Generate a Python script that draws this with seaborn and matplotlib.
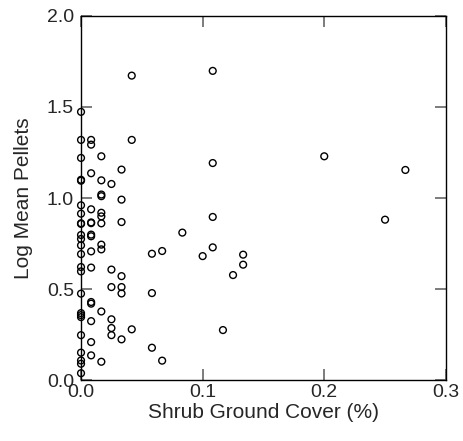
import matplotlib
matplotlib.use("Agg")
import matplotlib.pyplot as plt
import seaborn as sns
import pandas as pd

# shrub ground cover (fraction) and log mean pellets
shrub_cover = (
    [0.0] * 24
    + [0.0083] * 15
    + [0.0167] * 11
    + [0.025] * 6
    + [0.0333] * 7
    + [0.0417] * 3
    + [0.0583] * 3
    + [0.0667] * 2
    + [0.0833, 0.1]
    + [0.1083] * 4
    + [0.1167, 0.125, 0.1333, 0.1333, 0.2, 0.25, 0.2667]
)
log_pellets = (
    [1.473, 1.319, 1.220, 1.100, 1.095, 0.960, 0.914, 0.861, 0.858, 0.797,
     0.775, 0.740, 0.692, 0.621, 0.597, 0.475, 0.368, 0.357, 0.346, 0.247,
     0.151, 0.108, 0.090, 0.038]
    + [1.319, 1.293, 1.136, 0.938, 0.866, 0.862, 0.799, 0.790, 0.707, 0.618,
       0.429, 0.420, 0.324, 0.209, 0.136]
    + [1.229, 1.097, 1.019, 1.010, 0.919, 0.899, 0.861, 0.744, 0.718, 0.377, 0.101]
    + [1.077, 0.607, 0.511, 0.334, 0.286, 0.247]
    + [1.156, 0.991, 0.868, 0.571, 0.511, 0.476, 0.224]
    + [1.672, 1.319, 0.279]
    + [0.694, 0.478, 0.178]
    + [0.709, 0.107]
    + [0.810, 0.681]
    + [1.698, 1.192, 0.896, 0.729]
    + [0.275, 0.577, 0.689, 0.634, 1.229, 0.881, 1.154]
)

df = pd.DataFrame({"cover": shrub_cover, "pellets": log_pellets})

sns.set_style("ticks")
plt.rcParams["font.family"] = ["Liberation Sans", "DejaVu Sans"]

fig = plt.figure(figsize=(4.63, 4.41), dpi=100)
ax = fig.add_axes([0.175, 0.138, 0.963 - 0.175, 0.964 - 0.138])

sns.scatterplot(data=df, x="cover", y="pellets", ax=ax, marker="o", s=24,
                facecolor="none", edgecolor="black", linewidth=1.0, clip_on=False)

ax.set_xlim(0, 0.3)
ax.set_ylim(0, 2.0)
ax.set_xticks([0.0, 0.1, 0.2, 0.3])
ax.set_yticks([0.0, 0.5, 1.0, 1.5, 2.0])
ax.set_xticklabels(["0.0", "0.1", "0.2", "0.3"])
ax.set_yticklabels(["0.0", "0.5", "1.0", "1.5", "2.0"])
ax.tick_params(direction="in", length=8, width=1.2, color="#666666",
               top=True, right=True, labelsize=14)
ax.tick_params(axis="x", pad=3)
ax.tick_params(axis="y", pad=5)
for sp in ax.spines.values():
    sp.set_linewidth(1.0)
    sp.set_color("black")

ax.set_xlabel("Shrub Ground Cover (%)", fontsize=15, labelpad=1)
ax.set_ylabel("Log Mean Pellets", fontsize=15, labelpad=10)

fig.savefig("out.png", dpi=100)
